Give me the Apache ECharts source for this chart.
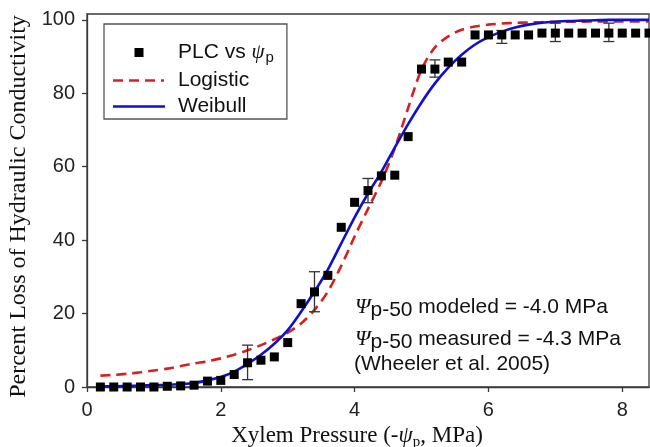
<!DOCTYPE html>
<html>
<head>
<meta charset="utf-8">
<script src="https://cdn.jsdelivr.net/npm/echarts@6/dist/echarts.min.js"></script>
<style>html,body{margin:0;padding:0;background:#fff;}#c{width:650px;height:447px;}</style>
</head>
<body>
<div id="c"></div>
<script>
// ---- Data ----
var obsX = [0.2,0.4,0.6,0.8,1.0,1.2,1.4,1.6,1.8,2.0,2.2,2.4,2.6,2.8,3.0,3.2,3.4,3.6,3.8,4.0,4.2,4.4,4.6,4.8,5.0,5.2,5.4,5.6,5.8,6.0,6.2,6.4,6.6,6.8,7.0,7.2,7.4,7.6,7.8,8.0,8.2,8.4];
var obsPLC = [0,0,0,0,0,0.2,0.3,0.5,1.6,1.8,3.4,6.6,7.3,8.2,12.1,22.7,25.9,30.4,43.5,50.3,53.5,57.5,57.7,68.2,86.6,86.6,88.5,88.5,95.9,95.9,95.9,95.9,95.9,96.4,96.4,96.4,96.4,96.4,96.4,96.4,96.4,96.4];

var errX = [2.4,3.4,4.2,5.2,6.2,7.0,7.8];
var errLow = [2.0,20.5,50.2,84.4,93.6,94.1,94.1];
var errHigh = [11.4,31.4,56.8,89.1,97.1,99.1,99.1];

var fitX = [0.2,0.4,0.6,0.8,1.0,1.2,1.4,1.6,1.8,2.0,2.2,2.4,2.6,2.8,3.0,3.2,3.4,3.6,3.8,4.0,4.2,4.4,4.6,4.8,5.0,5.2,5.4,5.6,5.8,6.0,6.2,6.4,6.6,6.8,7.0,7.2,7.4,7.6,7.8,8.0,8.2,8.4];
var logisticY = [3.1,3.3,3.6,4.0,4.5,5.0,5.7,6.4,7.0,7.8,8.8,10.0,11.4,13.0,14.8,17.3,21,26,33,41,48.5,56,65,76,86.5,92.5,95.5,97.3,98.2,98.7,99.0,99.2,99.3,99.4,99.5,99.5,99.5,99.6,99.6,99.6,99.6,99.6];
var weibullY = [0.2,0.2,0.3,0.4,0.5,0.6,0.8,1.1,1.8,2.7,4.2,6.3,8.8,11.8,15.5,20.5,26,32,39.1,46.2,52.7,58.6,65.2,71.6,77.5,82.7,87,90.5,93.3,95.3,96.8,97.9,98.7,99.2,99.5,99.7,99.8,99.9,100,100,100,100];

var xTicks = [0,2,4,6,8];
var yTicks = [0,20,40,60,80,100];

function zip(a,b){ return a.map(function(v,i){ return [v,b[i]]; }); }

var chart = echarts.init(document.getElementById('c'), null, {renderer:'canvas'});
var sans = 'Liberation Sans, Arial, sans-serif';
var serif = 'Liberation Serif, Times New Roman, serif';
var axisCol = '#3a3a3a';
var red = '#d62020', blue = '#1010cc';

// legend icons (52 x 9 boxes; degenerate corner points fix the bounding box)
var box = 'M0,0L0,0M52,9L52,9';
var iconSquare = 'path://' + box + 'M21.5,0L30.5,0L30.5,9L21.5,9Z';
var iconDash = 'path://' + box + 'M0,3.2L10,3.2L10,5.8L0,5.8Z M16,3.2L26,3.2L26,5.8L16,5.8Z M32,3.2L42,3.2L42,5.8L32,5.8Z M48,3.2L51,3.2L51,5.8L48,5.8Z';
var iconSolid = 'path://' + box + 'M0,3.2L52,3.2L52,5.8L0,5.8Z';

var richPsi = {
  t: {fontFamily: sans, fontSize: 21, fill: '#111'},
  psi: {fontFamily: serif, fontStyle: 'italic', fontSize: 22, fill: '#111'},
  sub: {fontFamily: sans, fontSize: 21, fill: '#111', padding: [7,0,0,0]}
};

chart.setOption({
  animation: false,
  backgroundColor: '#fff',
  grid: {left: 87, right: 1, top: 14, bottom: 60, containLabel: false, outerBoundsMode: 'none',
         show: true, borderColor: axisCol, borderWidth: 1.3},
  legend: {
    orient: 'vertical', left: 104, top: 24,
    itemWidth: 52, itemHeight: 9, itemGap: 5,
    padding: [18, 13, 2, 9],
    borderColor: '#555', borderWidth: 1.3, backgroundColor: '#fff',
    data: [{name: 'PLC', icon: iconSquare}, {name: 'Logistic', icon: iconDash}, {name: 'Weibull', icon: iconSolid}],
    formatter: function(n){ return n === 'PLC' ? '{t|PLC vs }{psi|ψ}{sub|p}' : '{t|' + n + '}'; },
    textStyle: {
      fontFamily: sans, fontSize: 21, color: '#111', padding: [0,0,0,8],
      rich: {
        t: {fontFamily: sans, fontSize: 21, color: '#111'},
        psi: {fontFamily: serif, fontStyle: 'italic', fontSize: 21, color: '#111'},
        sub: {fontFamily: sans, fontSize: 15, color: '#111', padding: [10,0,0,1]}
      }
    }
  },
  xAxis: {
    type: 'value', min: 0, max: 8.4,
    axisLine: {lineStyle: {color: axisCol, width: 1.3}},
    axisTick: {show: true, length: 5, customValues: xTicks, lineStyle: {color: axisCol, width: 1.3}},
    axisLabel: {customValues: xTicks, fontFamily: sans, fontSize: 20, color: '#222', margin: 13},
    splitLine: {show: false},
    name: '{a|Xylem Pressure (-}{psi|ψ}{sub|p}{a|, MPa)}',
    nameLocation: 'middle', nameGap: 28,
    nameTextStyle: {
      padding: [0, 22, 0, 0],
      rich: {
        a: {fontFamily: serif, fontSize: 23, color: '#111'},
        psi: {fontFamily: serif, fontStyle: 'italic', fontSize: 23, color: '#111'},
        sub: {fontFamily: serif, fontSize: 15, color: '#111', padding: [12,0,0,0]}
      }
    }
  },
  yAxis: {
    type: 'value', min: 0, max: 101.6,
    axisLine: {show: true, lineStyle: {color: axisCol, width: 1.3}},
    axisTick: {show: true, length: 5, customValues: yTicks, lineStyle: {color: axisCol, width: 1.3}},
    axisLabel: {customValues: yTicks, fontFamily: sans, fontSize: 20, color: '#222', margin: 12},
    splitLine: {show: false},
    name: 'Percent Loss of Hydraulic Conductivity',
    nameLocation: 'middle', nameGap: 49,
    nameTextStyle: {fontFamily: serif, fontSize: 24, color: '#111', padding: [0, 12, 0, 0]}
  },
  graphic: [
    {type: 'text', left: 355, top: 296, style: {text: '{psi|Ψ}{sub|p-50}{t| modeled = -4.0 MPa}', rich: richPsi}},
    {type: 'text', left: 355, top: 328, style: {text: '{psi|Ψ}{sub|p-50}{t| measured = -4.3 MPa}', rich: richPsi}},
    {type: 'text', left: 354, top: 354, style: {text: '(Wheeler et al. 2005)', font: '21px ' + sans, fill: '#111'}}
  ],
  series: [
    {
      name: 'Logistic', type: 'line', data: zip(fitX, logisticY),
      smooth: 0.3, showSymbol: false, symbol: 'none',
      lineStyle: {color: red, width: 2.6, type: [10, 6]},
      itemStyle: {color: red}, z: 3
    },
    {
      name: 'Weibull', type: 'line', data: zip(fitX, weibullY),
      smooth: 0.3, showSymbol: false, symbol: 'none',
      lineStyle: {color: blue, width: 2.6},
      itemStyle: {color: blue}, z: 4
    },
    {
      name: 'err', type: 'custom',
      data: errX.map(function(x,i){ return [x, errLow[i], errHigh[i]]; }),
      renderItem: function(params, api){
        var lo = api.coord([api.value(0), api.value(1)]);
        var hi = api.coord([api.value(0), api.value(2)]);
        var hw = 5.5;
        var st = {stroke: '#333', lineWidth: 1.3};
        return {type: 'group', children: [
          {type: 'line', shape: {x1: lo[0], y1: lo[1], x2: hi[0], y2: hi[1]}, style: st},
          {type: 'line', shape: {x1: lo[0]-hw, y1: lo[1], x2: lo[0]+hw, y2: lo[1]}, style: st},
          {type: 'line', shape: {x1: hi[0]-hw, y1: hi[1], x2: hi[0]+hw, y2: hi[1]}, style: st}
        ]};
      },
      z: 5
    },
    {
      name: 'PLC', type: 'scatter', data: zip(obsX, obsPLC),
      symbol: 'rect', symbolSize: 9,
      itemStyle: {color: '#000', opacity: 1}, z: 6
    }
  ]
});
</script>
</body>
</html>
